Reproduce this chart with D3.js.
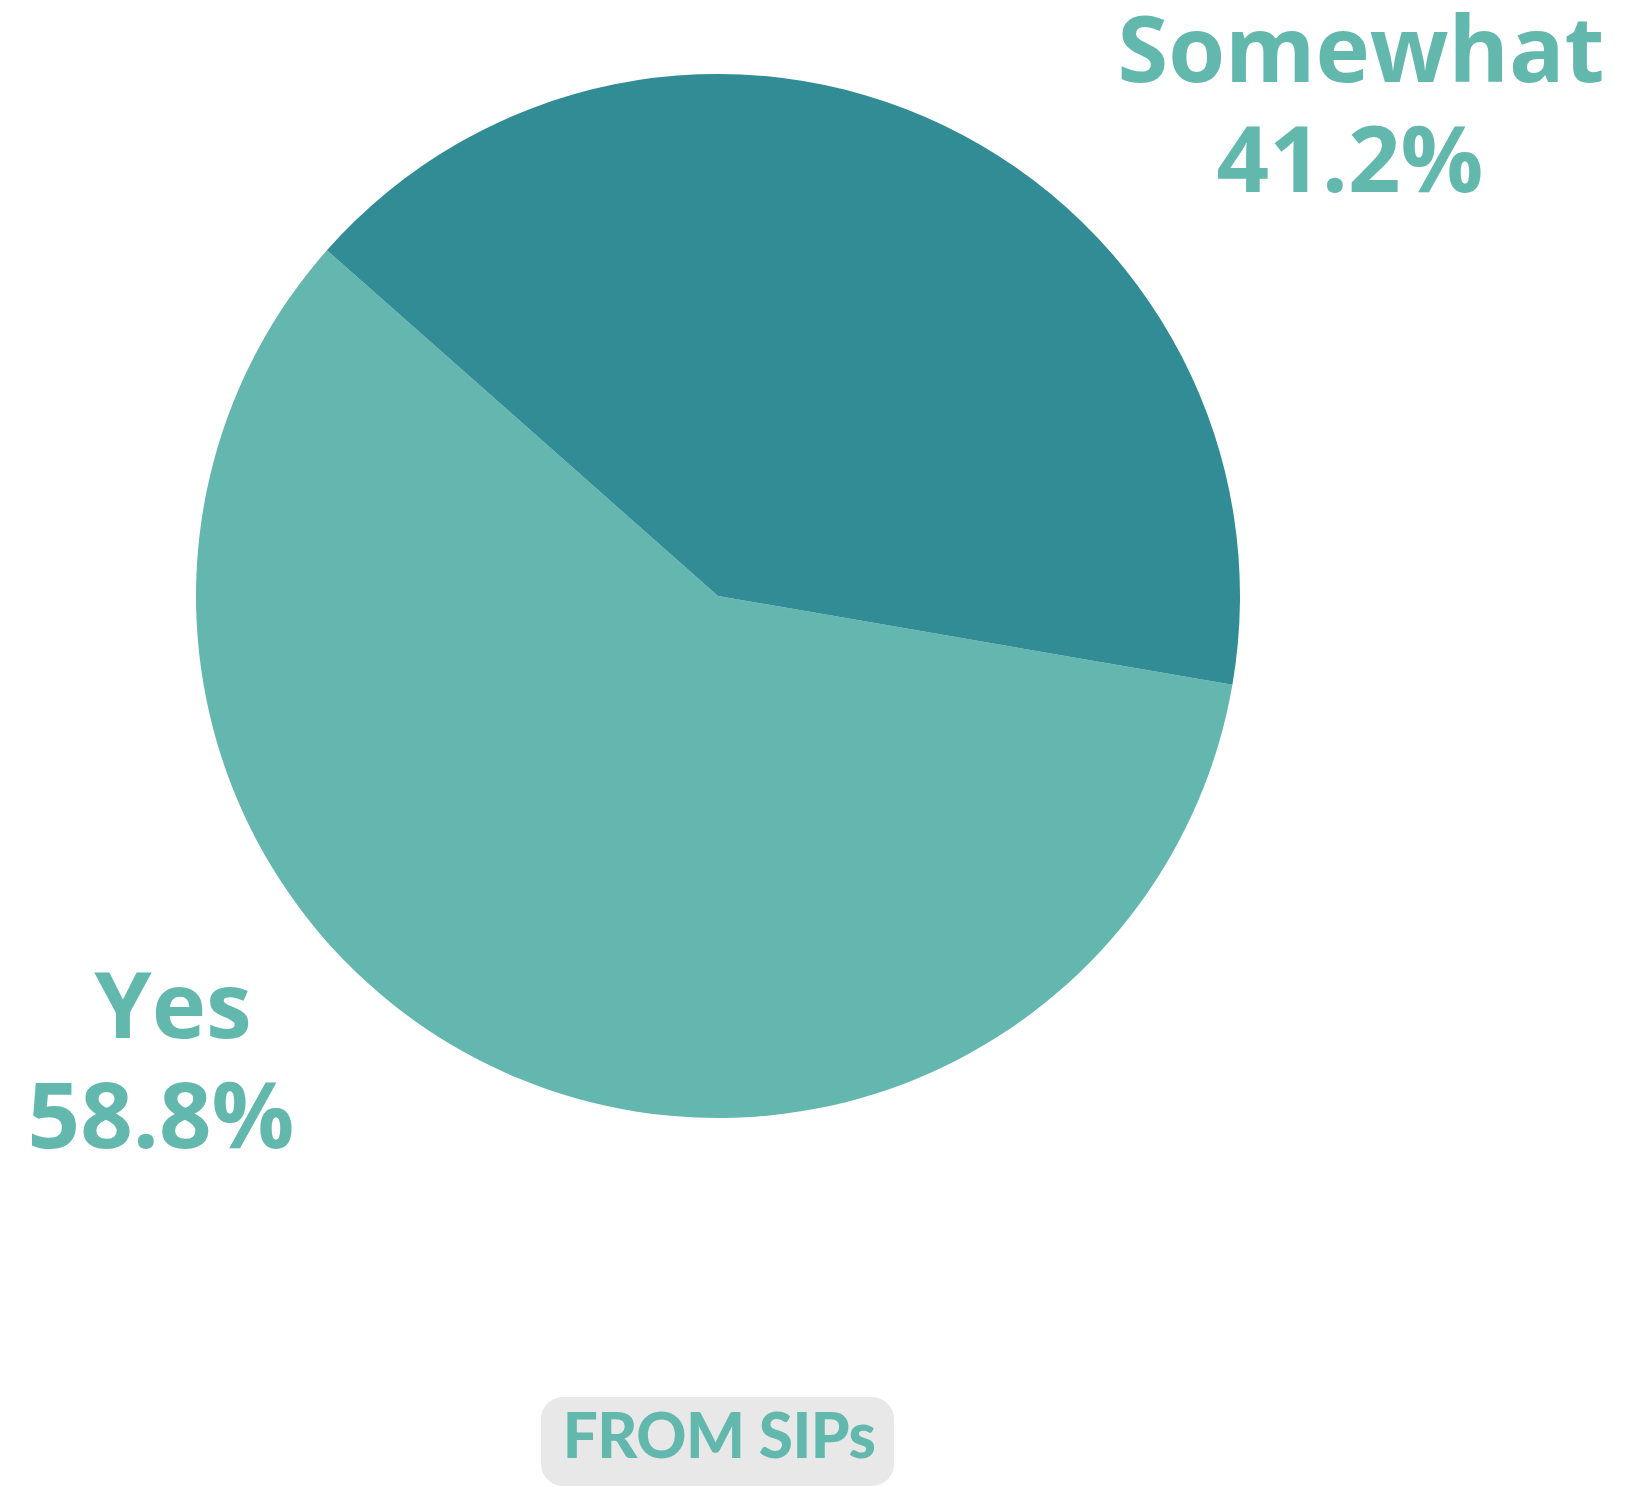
<!DOCTYPE html>
<html>
<head>
<meta charset="utf-8">
<script src="https://cdn.jsdelivr.net/npm/d3@7"></script>
<style>
  html, body { margin: 0; padding: 0; background: #fff; }
</style>
</head>
<body>
<div id="chart"></div>
<script>
// Data
const categories = ['Yes', 'Somewhat']
const values = [58.8, 41.2]
const colors = ['#63b7ae', '#328c96']
const footnote = 'FROM SIPs'

// Layout
const width = 1652
const height = 1487
const cx = 718
const cy = 596
const radius = 522
// label anchor per line: [name x, percent x, baseline y]
const labelPos = [{ x1: 173, x2: 161, y: 1038 }, { x1: 1361, x2: 1350, y: 82 }]

const svg = d3.select('#chart')
  .append('svg')
    .attr('width', width)
    .attr('height', height)

const pie = d3.pie()
  .sort(null)
  .value(d => d)
  .startAngle(99.8 * Math.PI / 180)
  .endAngle((99.8 + 360) * Math.PI / 180)

const arc = d3.arc().innerRadius(0).outerRadius(radius)

const g = svg.append('g')
  .attr('transform', 'translate(' + cx + ',' + cy + ')')

g.selectAll('path')
  .data(pie(values))
  .enter()
  .append('path')
    .attr('d', arc)
    .attr('fill', (d, i) => colors[i])

// Labels
const labels = svg.selectAll('.label')
  .data(categories)
  .enter()
  .append('text')
    .attr('class', 'label')
    .attr('y', (d, i) => labelPos[i].y)
    .attr('text-anchor', 'middle')
    .attr('font-family', 'Open Sans')
    .attr('font-weight', 700)
    .attr('font-size', 92)
    .attr('fill', '#63b8ae')

labels.append('tspan')
  .attr('x', (d, i) => labelPos[i].x1)
  .text(d => d)

labels.append('tspan')
  .attr('x', (d, i) => labelPos[i].x2)
  .attr('dy', 110)
  .text((d, i) => values[i].toFixed(1) + '%')

// Footnote badge
svg.append('rect')
  .attr('x', 541)
  .attr('y', 1397)
  .attr('width', 353)
  .attr('height', 89)
  .attr('rx', 22)
  .attr('fill', '#e8e8e8')

svg.append('text')
  .attr('x', 719)
  .attr('y', 1458)
  .attr('text-anchor', 'middle')
  .attr('font-family', 'Lato')
  .attr('font-weight', 900)
  .attr('font-size', 62)
  .attr('letter-spacing', -0.5)
  .attr('fill', '#63b8ae')
  .text(footnote)
</script>
</body>
</html>
